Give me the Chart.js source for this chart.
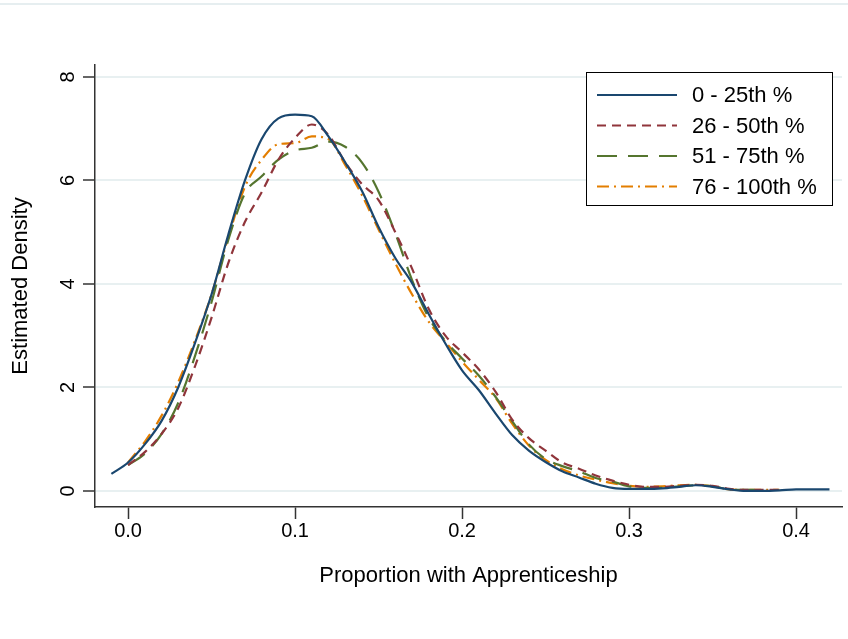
<!DOCTYPE html>
<html>
<head>
<meta charset="utf-8">
<title>Estimated Density by Quartile</title>
<script src="https://cdn.jsdelivr.net/npm/chart.js@4.4.0/dist/chart.umd.min.js"></script>
<style>
  html, body { margin: 0; padding: 0; background: #fff; }
  #wrap { position: relative; width: 848px; height: 639px; }
  #topRule { position: absolute; left: 0; top: 3px; width: 848px; border-top: 2px solid #e6eef0; }
</style>
</head>
<body>
<div id="wrap">
  <div id="topRule"></div>
  <canvas id="densityChart" width="848" height="639"></canvas>
</div>
<script>
// grid of x values (proportion with apprenticeship)
const xGrid = [-0.01, 0.00, 0.01, 0.02, 0.03, 0.04, 0.05, 0.06, 0.07, 0.08, 0.09,
               0.10, 0.11, 0.12, 0.13, 0.14, 0.15, 0.16, 0.17, 0.18, 0.19,
               0.20, 0.21, 0.22, 0.23, 0.24, 0.25, 0.26, 0.27, 0.28, 0.29,
               0.30, 0.31, 0.32, 0.33, 0.34, 0.35, 0.36, 0.37, 0.38, 0.39,
               0.40, 0.41, 0.42];

// estimated densities, one list per group
const q1 = [0.33, 0.55, 0.90, 1.35, 2.00, 2.85, 3.80, 4.95, 6.00, 6.80, 7.20,
            7.27, 7.24, 6.85, 6.35, 5.80, 5.10, 4.50, 4.02, 3.42, 2.85,
            2.33, 1.95, 1.50, 1.08, 0.78, 0.56, 0.38, 0.26, 0.14, 0.06,
            0.04, 0.04, 0.05, 0.08, 0.11, 0.08, 0.03, 0.00, 0.00, 0.01,
            0.03, 0.03, 0.03];
const q2 = [null, 0.50, 0.75, 1.10, 1.60, 2.40, 3.35, 4.40, 5.20, 5.77, 6.40,
            6.82, 7.08, 6.88, 6.35, 5.93, 5.62, 5.00, 4.30, 3.52, 3.00,
            2.68, 2.35, 1.92, 1.38, 1.02, 0.78, 0.55, 0.43, 0.30, 0.20,
            0.12, 0.08, 0.08, 0.10, 0.12, 0.10, 0.04, 0.02, 0.02, 0.02,
            null, null, null];
const q3 = [null, 0.50, 0.72, 1.10, 1.70, 2.60, 3.65, 4.85, 5.75, 6.08, 6.40,
            6.58, 6.63, 6.75, 6.65, 6.35, 5.78, 4.98, 4.08, 3.35, 2.90,
            2.56, 2.23, 1.82, 1.35, 0.90, 0.62, 0.48, 0.38, 0.25, 0.18,
            0.09, 0.06, 0.06, 0.09, 0.11, 0.09, 0.03, 0.02, 0.02, null,
            null, null, null];
const q4 = [null, 0.55, 0.95, 1.45, 2.10, 2.90, 3.80, 4.90, 5.88, 6.40, 6.70,
            6.72, 6.85, 6.80, 6.30, 5.72, 5.05, 4.40, 3.80, 3.27, 2.88,
            2.50, 2.15, 1.80, 1.30, 0.88, 0.60, 0.42, 0.30, 0.22, 0.15,
            0.10, 0.08, 0.09, 0.11, 0.12, 0.09, 0.03, 0.02, 0.02, 0.02,
            null, null, null];

const seriesLabels = ["0 - 25th %", "26 - 50th %", "51 - 75th %", "76 - 100th %"];
const xTicks = [0, 0.1, 0.2, 0.3, 0.4];
const yTicks = [0, 2, 4, 6, 8];

const FONT = "'Liberation Sans', Arial, sans-serif";

function toPoints(values) {
    return xGrid.map((x, i) => ({ x: x, y: values[i] }));
}

// legend drawn inside the plot, top right, boxed
const boxedLegend = {
    id: "boxedLegend",
    afterDraw(chart) {
        const ctx = chart.ctx;
        const area = chart.chartArea;
        const w = 246, h = 133;
        const left = area.right - 10 - w;
        const top = area.top + 7;
        ctx.save();
        ctx.fillStyle = "#fff";
        ctx.fillRect(left, top, w, h);
        ctx.strokeStyle = "#000";
        ctx.lineWidth = 1;
        ctx.strokeRect(left + 0.5, top + 0.5, w, h);
        ctx.font = "22px " + FONT;
        ctx.textBaseline = "middle";
        chart.data.datasets.forEach((ds, i) => {
            const y = top + 23 + i * 30.5;
            ctx.beginPath();
            ctx.strokeStyle = ds.borderColor;
            ctx.lineWidth = 2;
            ctx.setLineDash(ds.borderDash || []);
            ctx.moveTo(left + 11, y);
            ctx.lineTo(left + 91, y);
            ctx.stroke();
            ctx.setLineDash([]);
            ctx.fillStyle = "#000";
            ctx.fillText(ds.label, left + 106, y + 1);
        });
        ctx.restore();
    }
};

new Chart(document.getElementById("densityChart"), {
    type: "line",
    data: {
        datasets: [
            { label: seriesLabels[0], data: toPoints(q1), borderColor: "#1a476f", borderDash: [] },
            { label: seriesLabels[1], data: toPoints(q2), borderColor: "#90353b", borderDash: [9, 6] },
            { label: seriesLabels[2], data: toPoints(q3), borderColor: "#55752f", borderDash: [20, 11] },
            { label: seriesLabels[3], data: toPoints(q4), borderColor: "#e37e00", borderDash: [12, 5, 2, 5] }
        ].map(d => Object.assign(d, {
            borderWidth: 2.2,
            pointRadius: 0,
            fill: false,
            cubicInterpolationMode: "monotone",
            spanGaps: false
        }))
    },
    options: {
        responsive: false,
        animation: false,
        devicePixelRatio: 1,
        layout: { padding: { top: 65, right: 6, left: 0, bottom: 0 } },
        plugins: {
            legend: { display: false },
            tooltip: { enabled: false }
        },
        scales: {
            x: {
                type: "linear",
                min: -0.0198,
                max: 0.4275,
                afterFit: s => { s.height = 132; },
                afterBuildTicks: s => { s.ticks = xTicks.map(v => ({ value: v })); },
                grid: { drawOnChartArea: false, drawTicks: true, tickLength: 12, tickColor: "#333", tickWidth: 1.5 },
                border: { display: true, color: "#333", width: 1.5 },
                ticks: {
                    color: "#000",
                    padding: 0,
                    font: { family: FONT, size: 20 },
                    callback: v => v.toFixed(1)
                },
                title: {
                    display: true,
                    text: "Proportion with Apprenticeship",
                    color: "#000",
                    font: { family: FONT, size: 22 },
                    padding: { top: 0, bottom: 50 }
                }
            },
            y: {
                min: -0.31,
                max: 8.23,
                afterFit: s => { s.width = 95; },
                afterBuildTicks: s => { s.ticks = yTicks.map(v => ({ value: v })); },
                grid: { color: "#e8f0f1", lineWidth: 2, drawTicks: true, tickLength: 12, tickColor: "#333", tickWidth: 1.5 },
                border: { display: true, color: "#333", width: 1.5 },
                ticks: {
                    color: "#000",
                    padding: 9,
                    minRotation: 90,
                    maxRotation: 90,
                    crossAlign: "center",
                    font: { family: FONT, size: 20 },
                    callback: v => String(v)
                },
                title: {
                    display: true,
                    text: "Estimated Density",
                    color: "#000",
                    font: { family: FONT, size: 22 },
                    padding: { top: 8, bottom: 0 }
                }
            }
        }
    },
    plugins: [boxedLegend]
});
</script>
</body>
</html>
